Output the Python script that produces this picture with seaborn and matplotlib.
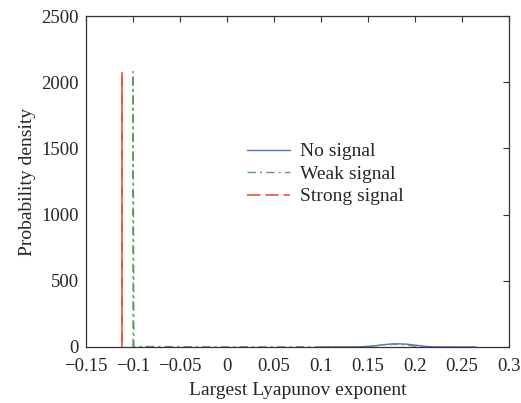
import numpy as np
import pandas as pd
import matplotlib
matplotlib.use("Agg")
import matplotlib.pyplot as plt
import seaborn as sns

# values
no_x = [0.10, 0.12, 0.14, 0.15, 0.16, 0.17, 0.18, 0.19, 0.20, 0.21, 0.22, 0.24, 0.265]
no_y = [0, 0, 1, 4, 12, 20, 24, 22, 14, 5, 1, 0, 0]

weak_x = [-0.10, -0.10, -0.099, -0.09, -0.05, 0.0, 0.05, 0.10, 0.14, 0.16, 0.17, 0.18, 0.19, 0.20, 0.21]
weak_y = [0, 2080, 0, 4, 2, 1, 1, 1, 2, 10, 18, 20, 16, 6, 0]

strong_x = [-0.112, -0.112, -0.112]
strong_y = [0, 2080, 0]

sns.set_style("white")
plt.rcParams["font.family"] = ["Liberation Serif", "DejaVu Serif"]

fig = plt.figure(figsize=(5.21, 4.03), dpi=100)
ax = fig.add_axes([0.165, 0.139, 0.812, 0.821])

sns.lineplot(x=no_x, y=no_y, sort=False, estimator=None, ax=ax,
             color="#4f6bd8", lw=1.0, label="No signal")
sns.lineplot(x=weak_x, y=weak_y, sort=False, estimator=None, ax=ax,
             color="#5d9e5d", lw=1.0, label="Weak signal")
sns.lineplot(x=strong_x, y=strong_y, sort=False, estimator=None, ax=ax,
             color="#f0503c", lw=1.2, label="Strong signal")
ax.lines[1].set_linestyle((0, (6, 3, 1.5, 3)))
ax.lines[2].set_linestyle((0, (8, 3)))

ax.set_xlim(-0.15, 0.3)
ax.set_ylim(0, 2500)
ax.set_xticks([-0.15, -0.1, -0.05, 0, 0.05, 0.1, 0.15, 0.2, 0.25, 0.3])
ax.set_xticklabels(["\u22120.15", "\u22120.1", "\u22120.05", "0", "0.05", "0.1",
                    "0.15", "0.2", "0.25", "0.3"])
ax.set_yticks([0, 500, 1000, 1500, 2000, 2500])
ax.tick_params(direction="in", top=True, right=True, length=4, labelsize=13.5,
               width=0.8, color="#333333")
ax.tick_params(axis="x", pad=8)
ax.tick_params(axis="y", pad=5)
for s in ax.spines.values():
    s.set_color("#333333")
    s.set_linewidth(0.9)

ax.set_xlabel("Largest Lyapunov exponent", fontsize=14, labelpad=5)
ax.set_ylabel("Probability density", fontsize=14, labelpad=4)

ax.legend(loc="upper left", bbox_to_anchor=(0.34, 0.67), frameon=False,
          fontsize=14, handlelength=2.2, labelspacing=0.25, handletextpad=0.5)

fig.savefig("out.png", dpi=100)
